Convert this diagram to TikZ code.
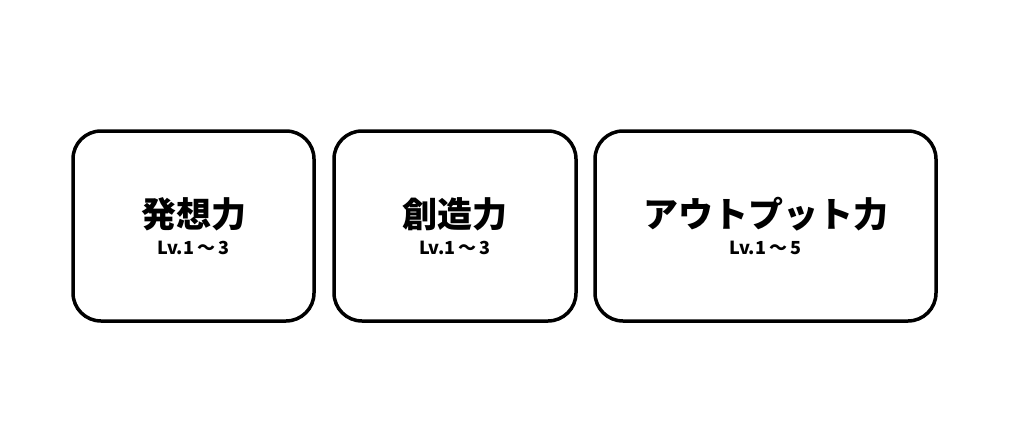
\documentclass[tikz,border=0pt]{standalone}
\usepackage{fontspec}
\newfontfamily\cjk{Noto Sans CJK JP}
\begin{document}
\begin{tikzpicture}[x=1pt,y=-1pt,
  box/.style={draw=black,line width=3.5pt,rounded corners=28pt},
  ttl/.style={font=\cjk\bfseries\fontsize{35}{40}\selectfont},
  sub/.style={font=\cjk\bfseries\fontsize{18}{21}\selectfont}]
\useasboundingbox (0,0) rectangle (1018,429);
\fill[white] (0,0) rectangle (1018,429);
\draw[box] (73,131) rectangle (314,321);
\draw[box] (334,131) rectangle (576,321);
\draw[box] (595,131) rectangle (936,321);
\node[ttl] (t1) at (193.5,214) {発想力};
\node[sub] (s1) at (193.5,248) {Lv.1\,～\,3};
\node[ttl] (t2) at (455,214) {創造力};
\node[sub] (s2) at (455,248) {Lv.1\,～\,3};
\node[ttl] (t3) at (765.5,214) {アウトプット力};
\node[sub] (s3) at (765.5,248) {Lv.1\,～\,5};
\end{tikzpicture}
\end{document}
